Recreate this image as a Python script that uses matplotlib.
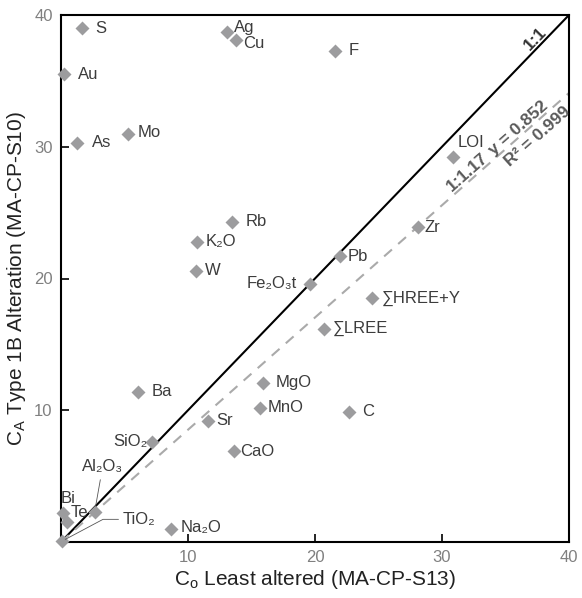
import numpy as np
import matplotlib
matplotlib.use("Agg")
import matplotlib.pyplot as plt

plt.rcParams['font.family'] = ['Liberation Sans', 'DejaVu Sans']

# Isocon data: least altered (Co) vs Type 1B alteration (CA), scaled values
names = ["S", "Ag", "Cu", "F", "Au", "Mo", "As", "LOI", "Rb", "K₂O", "W",
         "Zr", "Pb", "Fe₂O₃t", "∑HREE+Y", "∑LREE", "Ba", "MgO", "MnO", "C",
         "Sr", "SiO₂", "CaO", "Na₂O", "Bi", "Te", "Al₂O₃", "TiO₂"]
co = [1.65, 13.1, 13.8, 21.6, 0.25, 5.3, 1.25, 30.9, 13.5, 10.7, 10.6,
      28.1, 22.0, 19.6, 24.5, 20.7, 6.1, 15.9, 15.7, 22.7,
      11.6, 7.2, 13.6, 8.7, 0.15, 0.45, 2.65, 0.05]
ca = [39.0, 38.7, 38.1, 37.3, 35.5, 31.0, 30.3, 29.2, 24.3, 22.8, 20.6,
      23.9, 21.7, 19.6, 18.5, 16.2, 11.4, 12.1, 10.2, 9.9,
      9.2, 7.6, 6.9, 1.0, 2.2, 1.5, 2.3, 0.05]

fit_slope = 0.852
ticks = [10, 20, 30, 40]

# label placement (pixel offsets from marker, alignment)
label_pos = {
    "S": (13, 0, "left"), "Ag": (7, 5, "left"), "Cu": (7, -3, "left"),
    "F": (13, 0, "left"), "Au": (14, 0, "left"), "Mo": (9, 1, "left"),
    "As": (15, 0, "left"), "LOI": (4, 15, "left"), "Rb": (13, 0, "left"),
    "K₂O": (9, 0, "left"), "W": (9, 0, "left"), "Zr": (7, 0, "left"),
    "Pb": (7, 0, "left"), "Fe₂O₃t": (-13, 0, "right"),
    "∑HREE+Y": (10, 0, "left"), "∑LREE": (9, 0, "left"),
    "Ba": (13, 0, "left"), "MgO": (13, 0, "left"), "MnO": (7, 0, "left"),
    "C": (13, 0, "left"), "Sr": (8, 0, "left"), "SiO₂": (-5, 0, "right"),
    "CaO": (6, 0, "left"), "Na₂O": (9, 1, "left"), "Bi": (-2, 15, "left"),
    "Te": (4, 10, "left"),
}

fig = plt.figure(figsize=(5.82, 5.98), dpi=100)
ax = fig.add_axes([61 / 582, 56 / 598, 508 / 582, 527 / 598])
ax.set_xlim(0, 40)
ax.set_ylim(0, 40)

xs = np.array([0, 40])
ax.plot(xs, xs, color="black", lw=1.5, zorder=2)
ax.plot(xs, fit_slope * xs, color="#aaaaaa", lw=1.5, ls=(0, (5, 4)), zorder=2)

ax.plot(co, ca, ls="none", marker="D", ms=7.5, color="#9c9c9e",
        mec="none", clip_on=False, zorder=3)

txt_color = "#3c3c3c"
for n, x, y in zip(names, co, ca):
    if n in label_pos:
        dx, dy, ha = label_pos[n]
        ax.annotate(n, (x, y), xytext=(dx, dy), textcoords="offset pixels",
                    ha=ha, va="center", fontsize=12, color=txt_color)

# leader-line labels
i = names.index("Al₂O₃")
ax.annotate("Al₂O₃", (co[i], ca[i]), xytext=(8, 45), textcoords="offset pixels",
            ha="center", va="center", fontsize=12, color=txt_color,
            arrowprops=dict(arrowstyle="-", color="#555555", lw=0.6,
                            shrinkA=2, shrinkB=4))
i = names.index("TiO₂")
ax.annotate("TiO₂", (co[i], ca[i]), xytext=(61, 22), textcoords="offset pixels",
            ha="left", va="center", fontsize=12, color=txt_color,
            arrowprops=dict(arrowstyle="-", color="#555555", lw=0.6,
                            shrinkA=1, shrinkB=3,
                            connectionstyle="angle,angleA=0,angleB=28,rad=0"))

# line annotations
fig.canvas.draw()


def line_angle(slope):
    p0 = ax.transData.transform((0, 0))
    p1 = ax.transData.transform((40, 40 * slope))
    return np.degrees(np.arctan2(p1[1] - p0[1], p1[0] - p0[0]))


def line_text(s, x, slope, dist, va, color):
    a = line_angle(slope)
    ox = -np.sin(np.radians(a)) * dist
    oy = np.cos(np.radians(a)) * dist
    ax.annotate(s, (x, slope * x), xytext=(ox, oy), textcoords="offset pixels",
                rotation=a, rotation_mode="anchor", ha="center", va=va,
                fontsize=12.5, fontweight="bold", color=color)


line_text("1:1", 37.8, 1.0, 0, "bottom", "#333333")
line_text("1:1.17", 32.4, fit_slope, 0, "bottom", "#5a5a5a")
line_text("y = 0.852", 36.4, fit_slope, 0, "bottom", "#5a5a5a")
line_text("R² = 0.999", 36.9, fit_slope, -4, "top", "#5a5a5a")

for s in ax.spines.values():
    s.set_linewidth(1.5)
    s.set_color("black")
ax.set_xticks(ticks)
ax.set_yticks(ticks)
ax.tick_params(direction="in", length=6, width=1.2, labelsize=12,
               labelcolor="#808080", pad=6)

ax.set_xlabel(r"$\mathregular{C_o}$ Least altered (MA-CP-S13)", fontsize=15,
              color="#222222", labelpad=2)
ax.set_ylabel(r"$\mathregular{C_A}$ Type 1B Alteration (MA-CP-S10)", fontsize=15,
              color="#222222", labelpad=4)

fig.savefig("out.png", dpi=100)
